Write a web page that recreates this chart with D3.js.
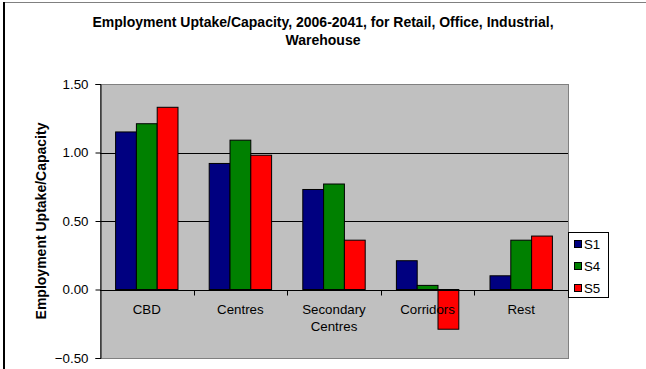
<!DOCTYPE html>
<html>
<head>
<meta charset="utf-8">
<script src="https://cdn.jsdelivr.net/npm/d3@7"></script>
<style>
  html, body { margin: 0; padding: 0; background: #fff; }
  svg { display: block; font-family: Arial, "Liberation Sans", sans-serif; }
</style>
</head>
<body>
<svg id="chart" width="646" height="369"></svg>
<script>
const categories = ["CBD", "Centres", "Secondary\nCentres", "Corridors", "Rest"];
const seriesNames = ["S1", "S4", "S5"];
const s1 = [1.15, 0.92, 0.73, 0.21, 0.10];
const s4 = [1.21, 1.09, 0.77, 0.03, 0.36];
const s5 = [1.33, 0.98, 0.36, -0.29, 0.39];
const seriesColors = ["#000080", "#008000", "#FF0000"];
const yTicks = [-0.5, 0, 0.5, 1.0, 1.5];
const titleLines = ["Employment Uptake/Capacity, 2006-2041, for Retail, Office, Industrial,", "Warehouse"];
const yTitle = "Employment Uptake/Capacity";

const seriesValues = [s1, s4, s5];
const svg = d3.select("#chart");
const FONT = "Arial, 'Liberation Sans', sans-serif";
const REG = 13.3;

// chart border (partial, as in reference)
svg.append("line").attr("x1", 4).attr("x2", 646).attr("y1", 2.5).attr("y2", 2.5)
  .attr("stroke", "#808080").attr("stroke-width", 1);
svg.append("line").attr("x1", 4).attr("x2", 4).attr("y1", 2).attr("y2", 369)
  .attr("stroke", "#000").attr("stroke-width", 2);

const plot = { left: 100, right: 568, top: 84, bottom: 358 };

const x0 = d3.scaleBand().domain(categories).range([plot.left, plot.right]).paddingInner(0).paddingOuter(0);
const x1 = d3.scaleBand().domain(seriesNames).range([0, x0.bandwidth()]).paddingInner(0).paddingOuter(0.75);
const y = d3.scaleLinear().domain([-0.5, 1.5]).range([plot.bottom, plot.top]);

// plot background
svg.append("rect")
  .attr("x", plot.left + 0.5).attr("y", plot.top + 0.5)
  .attr("width", plot.right - plot.left).attr("height", plot.bottom - plot.top)
  .attr("fill", "#C0C0C0").attr("stroke", "#808080").attr("stroke-width", 1);

// gridlines
svg.append("g").selectAll("line")
  .data(yTicks.filter(t => t !== 0 && t !== -0.5 && t !== 1.5))
  .join("line")
  .attr("x1", plot.left).attr("x2", plot.right)
  .attr("y1", d => Math.round(y(d)) + 0.5).attr("y2", d => Math.round(y(d)) + 0.5)
  .attr("stroke", "#000").attr("stroke-width", 1);

// bars
const groups = svg.append("g").selectAll("g")
  .data(categories)
  .join("g")
  .attr("transform", d => `translate(${x0(d)},0)`);

groups.selectAll("rect")
  .data((c, i) => seriesNames.map((s, j) => ({ s, v: seriesValues[j][i], color: seriesColors[j] })))
  .join("rect")
  .attr("x", d => x1(d.s))
  .attr("width", x1.bandwidth())
  .attr("y", d => y(Math.max(0, d.v)))
  .attr("height", d => Math.abs(y(d.v) - y(0)))
  .attr("fill", d => d.color)
  .attr("stroke", "#000").attr("stroke-width", 1);

// y axis
const yAxis = d3.axisLeft(y).tickValues(yTicks).tickFormat(d3.format(".2f")).tickSize(5).tickPadding(7);
const yG = svg.append("g").attr("transform", `translate(${plot.left + 0.5},0)`).call(yAxis);
yG.select(".domain").attr("stroke", "#000");
yG.selectAll(".tick line").attr("stroke", "#000");
yG.selectAll(".tick text").attr("font-size", REG).attr("font-family", FONT).attr("fill", "#000");

// x axis at zero
const zeroY = Math.round(y(0)) + 0.5;
svg.append("line").attr("x1", plot.left).attr("x2", plot.right)
  .attr("y1", zeroY).attr("y2", zeroY).attr("stroke", "#000");
const boundaries = categories.slice(1).map(c => x0(c));
svg.append("g").selectAll("line").data(boundaries).join("line")
  .attr("x1", d => Math.round(d) + 0.5).attr("x2", d => Math.round(d) + 0.5)
  .attr("y1", zeroY).attr("y2", zeroY + 5).attr("stroke", "#000");

// category labels
const catLabels = svg.append("g").selectAll("text").data(categories).join("text")
  .attr("x", d => x0(d) + x0.bandwidth() / 2)
  .attr("y", 314)
  .attr("text-anchor", "middle")
  .attr("font-size", REG)
  .attr("fill", "#000");
catLabels.each(function(d) {
  const lines = d.split("\n");
  d3.select(this).selectAll("tspan").data(lines).join("tspan")
    .attr("x", x0(d) + x0.bandwidth() / 2)
    .attr("dy", (l, i) => i === 0 ? 0 : 17)
    .text(l => l);
});

// title
svg.append("text")
  .attr("x", 323).attr("y", 27)
  .attr("text-anchor", "middle")
  .attr("font-size", 14).attr("font-weight", "bold").attr("fill", "#000")
  .selectAll("tspan").data(titleLines).join("tspan")
  .attr("x", 323).attr("dy", (d, i) => i === 0 ? 0 : 18)
  .text(d => d);

// y title
svg.append("text")
  .attr("transform", `translate(46,${(plot.top + plot.bottom) / 2}) rotate(-90)`)
  .attr("text-anchor", "middle")
  .attr("font-size", 14).attr("font-weight", "bold").attr("fill", "#000")
  .text(yTitle);

// legend
const legend = svg.append("g");
legend.append("rect")
  .attr("x", 568.5).attr("y", 232.5).attr("width", 40).attr("height", 65)
  .attr("fill", "#fff").attr("stroke", "#000").attr("stroke-width", 1);
const li = legend.selectAll("g.item").data(seriesNames).join("g").attr("class", "item")
  .attr("transform", (d, i) => `translate(574,${240 + i * 22})`);
li.append("rect").attr("x", 0.5).attr("y", 0.5).attr("width", 7).attr("height", 7)
  .attr("fill", (d, i) => seriesColors[i]).attr("stroke", "#000").attr("stroke-width", 1);
li.append("text").attr("x", 10).attr("y", 9).attr("font-size", REG).attr("fill", "#000").text(d => d);
</script>
</body>
</html>
